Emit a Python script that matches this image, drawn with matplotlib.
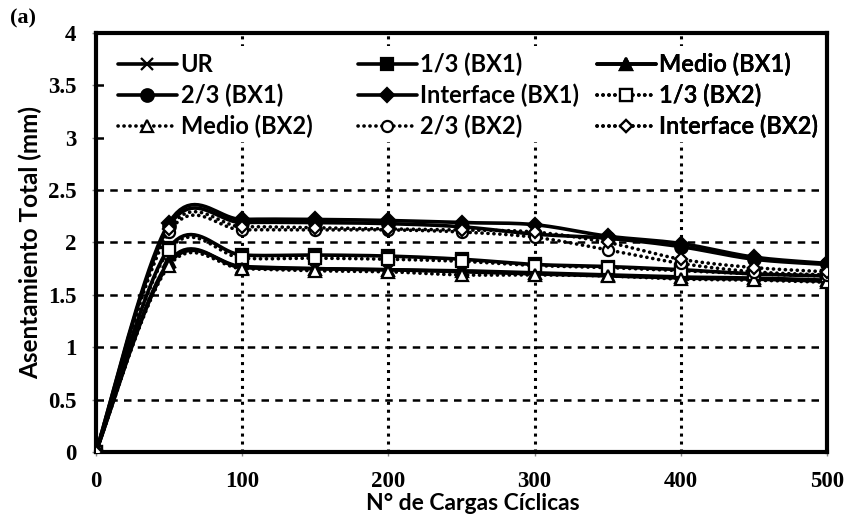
import numpy as np
import matplotlib.pyplot as plt
from matplotlib.ticker import FixedLocator
from matplotlib.patches import Rectangle

# number of cyclic loads
ciclos = [0, 50, 100, 150, 200, 250, 300, 350, 400, 450, 500]

# total settlement (mm) per position
ur = [0, 1.80, 1.77, 1.75, 1.74, 1.72, 1.70, 1.68, 1.66, 1.65, 1.63]
tercio_bx1 = [0, 1.95, 1.88, 1.88, 1.87, 1.84, 1.79, 1.77, 1.74, 1.70, 1.68]
medio_bx1 = [0, 1.82, 1.76, 1.75, 1.74, 1.73, 1.71, 1.69, 1.67, 1.66, 1.64]
dos_tercios_bx1 = [0, 2.16, 2.19, 2.19, 2.18, 2.15, 2.08, 2.04, 1.96, 1.84, 1.79]
interface_bx1 = [0, 2.19, 2.22, 2.22, 2.21, 2.19, 2.17, 2.06, 1.99, 1.86, 1.80]
tercio_bx2 = [0, 1.93, 1.85, 1.85, 1.84, 1.82, 1.78, 1.76, 1.73, 1.70, 1.68]
medio_bx2 = [0, 1.78, 1.75, 1.73, 1.72, 1.69, 1.69, 1.68, 1.65, 1.64, 1.62]
dos_tercios_bx2 = [0, 2.10, 2.12, 2.12, 2.12, 2.10, 2.05, 1.93, 1.80, 1.72, 1.69]
interface_bx2 = [0, 2.13, 2.15, 2.14, 2.13, 2.12, 2.10, 2.00, 1.84, 1.76, 1.72]

y_ticks = [0, 0.5, 1, 1.5, 2, 2.5, 3, 3.5, 4]
y_labels = ['0', '0.5', '1', '1.5', '2', '2.5', '3', '3.5', '4']
x_ticks = [0, 100, 200, 300, 400, 500]

N = 20  # samples per segment for the smoothed line


def smooth(x, y):
    # Excel-like smoothed line (Bezier through the points)
    p = np.column_stack([np.asarray(x, float), np.asarray(y, float)])
    pe = np.vstack([p[0], p, p[-1]])
    out = []
    t = np.linspace(0, 1, N, endpoint=False)[:, None]
    for i in range(len(p) - 1):
        p0, p1, p2, p3 = pe[i], pe[i + 1], pe[i + 2], pe[i + 3]
        c1 = p1 + (p2 - p0) / 6
        c2 = p2 - (p3 - p1) / 6
        seg = ((1 - t) ** 3) * p1 + 3 * ((1 - t) ** 2) * t * c1 + 3 * (1 - t) * t ** 2 * c2 + t ** 3 * p2
        out.append(seg)
    out.append(p[-1:])
    s = np.vstack(out)
    return s[:, 0], s[:, 1]


fig = plt.figure(figsize=(8.5, 5.17), dpi=100)
ax = fig.add_axes([0.113, 0.126, 0.860, 0.810])

DOT = (0, (0.05, 1.6))
series = [
    ('UR', ur, '-', 'x', 'black', 9),
    ('1/3 (BX1)', tercio_bx1, '-', 's', 'black', 9),
    ('Medio (BX1)', medio_bx1, '-', '^', 'black', 9),
    ('2/3 (BX1)', dos_tercios_bx1, '-', 'o', 'black', 9),
    ('Interface (BX1)', interface_bx1, '-', 'D', 'black', 7),
    ('1/3 (BX2)', tercio_bx2, DOT, 's', 'white', 8),
    ('Medio (BX2)', medio_bx2, DOT, '^', 'white', 8),
    ('2/3 (BX2)', dos_tercios_bx2, DOT, 'o', 'white', 8),
    ('Interface (BX2)', interface_bx2, DOT, 'D', 'white', 6),
]

handles = {}
for name, vals, ls, mk, fc, ms in series:
    sx, sy = smooth(ciclos, vals)
    ln, = ax.plot(sx, sy, linestyle=ls, color='black', linewidth=2.6,
                  dash_capstyle='round', solid_capstyle='round',
                  marker=mk, markevery=N, markersize=ms,
                  markerfacecolor=fc, markeredgecolor='black',
                  markeredgewidth=1.6, label=name, zorder=3)
    handles[name] = ln

ax.set_xlim(0, 500)
ax.set_ylim(0, 4)
ax.xaxis.set_major_locator(FixedLocator(x_ticks))
ax.yaxis.set_major_locator(FixedLocator(y_ticks))
ax.set_yticklabels(y_labels)

for v in y_ticks[1:-1]:
    ax.axhline(v, color='black', linestyle=(0, (3, 2.5)), linewidth=1.8, zorder=1)
for v in x_ticks[1:-1]:
    ax.axvline(v, color='black', linestyle=(0, (1, 1.6)), linewidth=2.2, zorder=1)

for sp in ax.spines.values():
    sp.set_linewidth(3)

ax.tick_params(axis='both', length=3, width=1, color='#888888', pad=11)
for lab in ax.get_xticklabels() + ax.get_yticklabels():
    lab.set_fontfamily('Liberation Serif')
    lab.set_fontweight('bold')
    lab.set_fontsize(16.5)

ax.set_xlabel('N° de Cargas Cíclicas', fontfamily='Lato', fontweight='bold',
              fontsize=16.5, va='top')
ax.xaxis.set_label_coords(0.515, -0.098)
ax.set_ylabel('Asentamiento Total (mm)', fontfamily='Lato', fontweight='bold',
              fontsize=17.5, labelpad=4)

# white area behind the legend
ax.add_patch(Rectangle((0.016, 0.74), 0.98, 0.228, transform=ax.transAxes,
                       facecolor='white', edgecolor='none', zorder=2))

columns = [
    ['UR', '2/3 (BX1)', 'Medio (BX2)'],
    ['1/3 (BX1)', 'Interface (BX1)', '2/3 (BX2)'],
    ['Medio (BX1)', '1/3 (BX2)', 'Interface (BX2)'],
]
col_x = [0.030, 0.358, 0.685]
for names, cx in zip(columns, col_x):
    leg = ax.legend([handles[k] for k in names], names, loc='upper left',
                    bbox_to_anchor=(cx, 0.953), frameon=False,
                    handlelength=2.5, handletextpad=0.15, labelspacing=0.32,
                    borderaxespad=0.0, borderpad=0.0, numpoints=1,
                    prop={'family': 'Lato', 'weight': 'bold', 'size': 17})
    leg.set_zorder(4)
    ax.add_artist(leg)

fig.text(0.012, 0.955, '(a)', fontfamily='Liberation Serif', fontweight='bold', fontsize=16)

fig.savefig('out.png', dpi=100)
